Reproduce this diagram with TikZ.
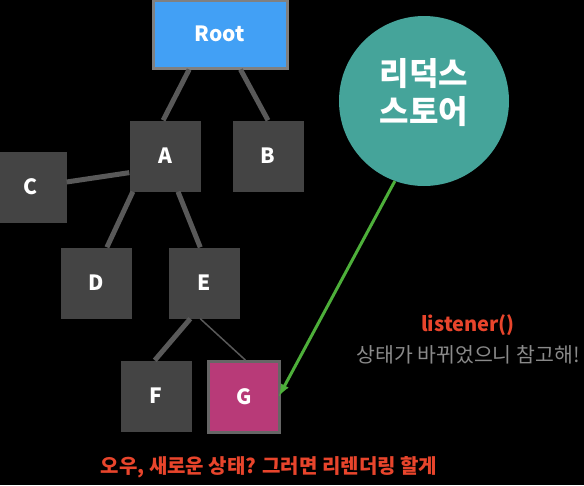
\documentclass[tikz,border=0pt]{standalone}
\usepackage{fontspec}
\setmainfont{Noto Sans CJK KR}
\usetikzlibrary{arrows,positioning}
\definecolor{bg}{HTML}{000000}
\definecolor{boxgray}{HTML}{444444}
\definecolor{linkgray}{HTML}{595959}
\definecolor{rootblue}{HTML}{42A0F5}
\definecolor{gpink}{HTML}{B83A78}
\definecolor{storeteal}{HTML}{45A49A}
\definecolor{arrowgreen}{HTML}{4DAF3A}
\definecolor{msgred}{HTML}{E8452C}
\definecolor{msggray}{HTML}{8A8A8A}

\begin{document}
\begin{tikzpicture}[x=1pt,y=-1pt,node distance=30pt,
  box/.style={rectangle,fill=boxgray,minimum size=71pt,inner sep=0pt,
    text=white,font=\bfseries\fontsize{21}{24}\selectfont},
  store/.style={circle,fill=storeteal,minimum size=170pt,inner sep=0pt,
    text=white,align=center,font=\bfseries\fontsize{32}{38}\selectfont},
  link/.style={draw=linkgray,line width=5pt},
  msg/.style={inner sep=0pt,font=\bfseries\fontsize{20}{24}\selectfont}]
  \fill[bg] (0,0) rectangle (584,485);
  \useasboundingbox (0,0) rectangle (584,485);
  \node[box,fill=rootblue,draw=gray,line width=3pt,minimum width=134pt,minimum height=68pt]
                         (Root) at (220,34)    {Root};
  \node[box]             (A)    at (165,156)   {A};
  \node[box]             (B)    at (268,156)   {B};
  \node[box]             (C)    at (31,187)    {C};
  \node[box]             (D)    at (96,283)    {D};
  \node[box]             (E)    at (204,283)   {E};
  \node[box]             (F)    at (156,396)   {F};
  \node[box,fill=gpink,draw=gray!80!black,line width=3pt]
                         (G)    at (244,397)   {G};
  \node[store]           (S)    at (424,101)   {};
  \node[text=white,align=center,font=\bfseries\fontsize{32}{38}\selectfont]
                         (SL)   at (424,93)    {리덕스\\스토어};
  \node[msg,text=msgred] (L)    at (468,325)   {listener()};
  \node[msg,text=msggray,font=\fontsize{20.5}{24}\selectfont]
                         (N)    [below=30pt of L.center,anchor=center] {상태가 바뀌었으니 참고해!};
  \node[msg,text=msgred] (R)    at (269,467)   {오우, 새로운 상태? 그러면 리렌더링 할게};
  \path[link] (Root.229) edge (A.93)
              (Root.300) edge (B.90)
              (A.205)    edge (C.8)
              (A.228)    edge (D.73)
              (A.290)    edge (E.96)
              (E.249)    edge (F.92);
  \path[draw=linkgray,double=black,double distance=1pt,line width=1.5pt]
              (E.264) edge (G.88);
  \draw[-latex,draw=arrowgreen,fill=arrowgreen,line width=3pt,shorten >=-4pt]
              (S.250) -- (G.7);
\end{tikzpicture}
\end{document}
